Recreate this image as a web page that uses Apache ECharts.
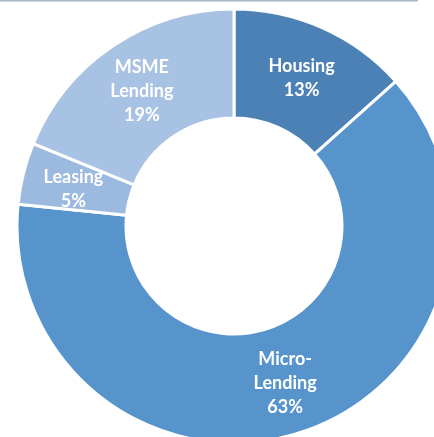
<!DOCTYPE html>
<html>
<head>
<meta charset="utf-8">
<script src="https://cdn.jsdelivr.net/npm/echarts@6/dist/echarts.min.js"></script>
<style>html,body{margin:0;padding:0;background:#fff}#c{width:434px;height:437px}</style>
</head>
<body>
<div id="c"></div>
<script>
var categories = ['Housing', 'Micro-\nLending', 'Leasing', 'MSME\nLending'];
var shares = [13.4, 63.2, 4.6, 18.8];
var colors = ['#4c81b6', '#5694cb', '#9cbadf', '#a8c2e4'];
var labelShift = [3, 0, 3, 3];

var chart = echarts.init(document.getElementById('c'), null, {renderer: 'canvas'});
chart.setOption({
  animation: false,
  graphic: [{
    type: 'line',
    shape: {x1: 0, y1: 0.5, x2: 418, y2: 0.5},
    style: {stroke: '#aab5c9', lineWidth: 2}
  }],
  series: [{
    type: 'pie',
    center: [234, 226],
    radius: [108, 217],
    startAngle: 90,
    clockwise: true,
    avoidLabelOverlap: false,
    itemStyle: {borderColor: '#ffffff', borderWidth: 3},
    label: {
      show: true,
      position: 'inside',
      color: '#ffffff',
      fontFamily: 'Lato',
      fontWeight: 'bold',
      fontSize: 18,
      lineHeight: 24,
      formatter: function (p) { return p.name + '\n' + Math.round(p.value) + '%'; }
    },
    labelLine: {show: false},
    emphasis: {disabled: true},
    data: categories.map(function (c, i) {
      return {name: c, value: shares[i], itemStyle: {color: colors[i]},
              label: {offset: [0, labelShift[i]]}};
    })
  }]
});
</script>
</body>
</html>
